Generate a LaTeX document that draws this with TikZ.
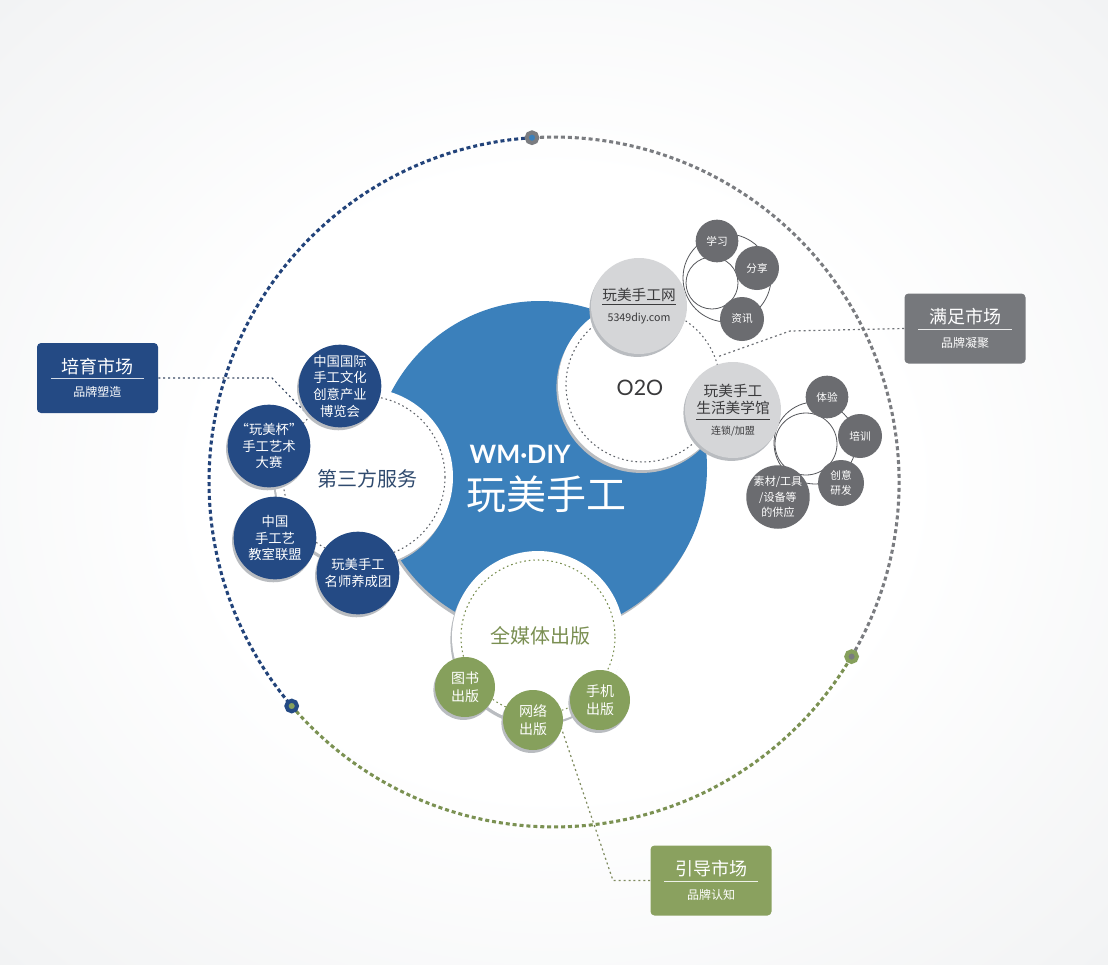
\documentclass[tikz,border=0pt]{standalone}
\usepackage{fontspec}
\setmainfont{Noto Sans CJK SC}
\newfontfamily\latofont{Lato}
\usetikzlibrary{shadows}
\definecolor{navy}{HTML}{244A84}
\definecolor{mainblue}{HTML}{3B80BB}
\definecolor{navyarc}{HTML}{22437A}
\definecolor{olivearc}{HTML}{7B9152}
\definecolor{greyarc}{HTML}{7A7C80}
\definecolor{leaf}{HTML}{86A05C}
\definecolor{olivebox}{HTML}{8AA15F}
\definecolor{greybox}{HTML}{76787C}
\definecolor{darkgrey}{HTML}{6B6C70}
\definecolor{lightgrey}{HTML}{D5D6D8}
\definecolor{shadowgrey}{HTML}{B9BCC0}
\definecolor{ringgrey}{HTML}{5E6268}
\definecolor{darktext}{HTML}{3A3A3C}
\definecolor{svctext}{HTML}{2F4A6E}
\definecolor{mediatext}{HTML}{7A8F52}
\definecolor{bgmid}{HTML}{F3F4F5}
\definecolor{bgedge}{HTML}{E3E6E9}
\definecolor{bgcorner}{HTML}{D3D7DC}
\definecolor{outlinegrey}{HTML}{55575B}
\definecolor{conngrey}{HTML}{6E7176}
\definecolor{connnavy}{HTML}{3C4C66}
\definecolor{connolive}{HTML}{7E8A5E}
\pgfdeclareradialshading{bgshade}{\pgfpoint{0bp}{0bp}}{color(0bp)=(white); color(16bp)=(white); color(34bp)=(bgmid); color(50bp)=(bgedge); color(72bp)=(bgcorner)}
\begin{document}
\begin{tikzpicture}[x=0.75pt,y=-0.75pt,
  shadowed/.style={drop shadow={shadow xshift=-1.2pt, shadow yshift=-2.2pt, fill=shadowgrey, opacity=1}},
  disc/.style={circle, inner sep=0pt, align=center},
  whitedisc/.style={disc, fill=white, shadowed},
  navydisc/.style={disc, fill=navy, text=white, minimum size=62pt, shadowed, font=\fontsize{10}{12.5}\selectfont},
  lightdisc/.style={disc, fill=lightgrey, text=darktext, minimum size=72pt, shadowed, font=\fontsize{11}{12}\selectfont},
  darkdisc/.style={disc, fill=darkgrey, text=white, font=\fontsize{8}{11.5}\selectfont},
  greendisc/.style={disc, fill=leaf, text=white, minimum size=45pt, shadowed, font=\fontsize{10.5}{13.5}\selectfont},
  outlinec/.style={draw=outlinegrey, line width=0.6pt},
  ringline/.style={draw=ringgrey, line width=0.8pt, dash pattern=on 1.2pt off 2.2pt},
  conn/.style={line width=0.9pt, dash pattern=on 1.5pt off 2.2pt},
  bigarc/.style={line width=2.3pt, dash pattern=on 3pt off 2.2pt},
  tagbox/.style={rectangle, rounded corners=3pt, minimum width=90.75pt, minimum height=52.5pt, inner sep=0pt, align=center, text=white, font=\fontsize{9}{12}\selectfont},
  dotnode/.style={circle, inner sep=0pt, minimum size=8pt, line width=3pt}
]
\useasboundingbox (0,0) rectangle (1108,965);
\shade[shading=bgshade] (0,0) rectangle (1108,965);

% orbit
\coordinate (aTop) at (532,137.7);
\coordinate (aLeft) at (291.7,706);
\coordinate (aRight) at (851.6,656.6);
\draw[bigarc, draw=navyarc] (aTop) arc[start angle=266.34, end angle=139.5, radius=345];
\draw[bigarc, draw=olivearc] (aLeft) arc[start angle=139.5, end angle=30.4, radius=345];
\draw[bigarc, draw=greyarc] (aRight) arc[start angle=30.4, end angle=-93.66, radius=345];

% tag boxes
\node[tagbox, fill=navy] (grow) at (97.5,378) {{\fontsize{13.5}{12}\selectfont 培育市场}\\[-7.5pt]\textcolor{white!80!navy}{\rule{70pt}{0.8pt}}\\[1.2pt]品牌塑造};
\node[tagbox, fill=greybox] (meet) at (965,328.5) {{\fontsize{13.5}{12}\selectfont 满足市场}\\[-7.5pt]\textcolor{white!85!greybox}{\rule{70pt}{0.8pt}}\\[1.2pt]品牌凝聚};
\node[tagbox, fill=olivebox] (lead) at (711,880.5) {{\fontsize{13.5}{12}\selectfont 引导市场}\\[-7.5pt]\textcolor{white!85!olivebox}{\rule{70pt}{0.8pt}}\\[1.2pt]品牌认知};

% core
\node[disc, fill=mainblue, minimum size=250.5pt, shadowed] (core) at (540,468) {};
\node[anchor=west, text=white, font=\latofont\bfseries\fontsize{19}{20}\selectfont] (logo) at (465,454) {WM·DIY};
\node[anchor=west, text=white, font=\fontsize{30}{32}\selectfont] (brand) at (462,494) {玩美手工};

% white circles
\node[whitedisc, minimum size=133.5pt] (svc) at (364,477) {};
\draw[ringline] (svc.center) circle[radius=81];
\node[text=svctext, font=\fontsize{15}{16}\selectfont] (svclabel) at (367,479) {第三方服务};

\node[whitedisc, minimum size=127.5pt] (o2o) at (643,385) {};
\draw[ringline] (o2o.center) circle[radius=77];
\node[text=darktext, font=\latofont\fontsize{16}{17}\selectfont] (o2olabel) at (640,388) {O2O};

\node[whitedisc, minimum size=129pt] (media) at (538,637) {};
\draw[ringline, draw=mediatext] (media.center) circle[radius=77];
\node[text=mediatext, font=\fontsize{15}{16}\selectfont] (medialabel) at (540,636) {全媒体出版};

% connectors
\coordinate (g1) at (272,378);
\coordinate (g2) at (309,416);
\draw[conn, draw=connnavy] (grow.east) -- (g1) -- (g2);
\coordinate (m1) at (790,331);
\coordinate (m2) at (717,357);
\draw[conn, draw=conngrey] (meet.west) -- (m1) -- (m2);
\coordinate (l1) at (613,880.5);
\coordinate (l2) at (561,727);
\draw[conn, draw=connolive] (lead.west) -- (l1) -- (l2);

% outline circles
\draw[outlinec] (727,278) circle[radius=44];
\draw[outlinec, fill=white] (712,283) circle[radius=26];
\draw[outlinec] (815,443) circle[radius=41];
\draw[outlinec, fill=white] (806,444) circle[radius=31];

% navy circles
\node[navydisc] (expo) at (340,386) {中国国际\\手工文化\\创意产业\\博览会};
\node[navydisc] (cup) at (269,446) {“玩美杯”\\手工艺术\\大赛};
\node[navydisc] (union) at (275,538) {中国\\手工艺\\教室联盟};
\node[navydisc] (master) at (358,573) {玩美手工\\名师养成团};

% light grey circles
\node[lightdisc] (web) at (639,306) {玩美手工网\\[-8.7pt]\textcolor{darktext}{\rule{55pt}{0.7pt}}\\[0pt]{\fontsize{8}{10}\selectfont 5349diy.com}};
\node[lightdisc] (hall) at (733,410) {玩美手工\\[0.75pt]生活美学馆\\[-7.2pt]\textcolor{darktext}{\rule{55pt}{0.7pt}}\\[-0.9pt]{\fontsize{7.5}{9}\selectfont 连锁/加盟}};

% dark grey circles
\node[darkdisc, minimum size=32pt] (learn) at (717,241) {学习};
\node[darkdisc, minimum size=33pt] (share) at (757,268) {分享};
\node[darkdisc, minimum size=33pt] (news) at (742,319) {资讯};
\node[darkdisc, minimum size=32pt] (exp) at (827,397) {体验};
\node[darkdisc, minimum size=33pt] (train) at (860,436) {培训};
\node[darkdisc, minimum size=34.5pt] (rnd) at (841,483) {创意\\研发};
\node[darkdisc, minimum size=43.5pt, font=\fontsize{8.3}{11.6}\selectfont] (supply) at (778,497) {素材/工具\\/设备等\\的供应};

% green circles
\node[greendisc] (book) at (465,687) {图书\\出版};
\node[greendisc] (net) at (533,720) {网络\\出版};
\node[greendisc] (phone) at (600,700) {手机\\出版};

% orbit dots
\node[dotnode, fill=mainblue, draw=greyarc] (dTop) at (aTop) {};
\node[dotnode, fill=leaf, draw=navy] (dLeft) at (aLeft) {};
\node[dotnode, fill=greyarc, draw=leaf] (dRight) at (aRight) {};
\end{tikzpicture}
\end{document}
